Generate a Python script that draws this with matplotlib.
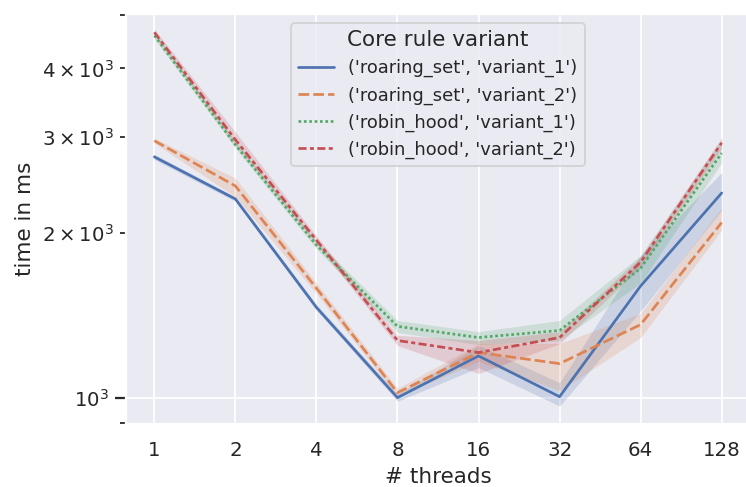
import numpy as np
import matplotlib
matplotlib.use("Agg")
import matplotlib.pyplot as plt
import seaborn as sns
from matplotlib.ticker import NullLocator

threads = [1, 2, 4, 8, 16, 32, 64, 128]
variants = ["('roaring_set', 'variant_1')", "('roaring_set', 'variant_2')",
            "('robin_hood', 'variant_1')", "('robin_hood', 'variant_2')"]

# mean time in ms, with lower / upper bound of the confidence band
rs_v1 = [2756, 2308, 1462, 1000, 1192, 1004, 1600, 2367]
rs_v1_lo = [2725, 2285, 1445, 985, 1135, 965, 1440, 2200]
rs_v1_hi = [2785, 2330, 1480, 1015, 1246, 1065, 1820, 2580]

rs_v2 = [2950, 2438, 1585, 1021, 1209, 1154, 1360, 2090]
rs_v2_lo = [2920, 2330, 1550, 1005, 1165, 1030, 1288, 2025]
rs_v2_hi = [2980, 2520, 1620, 1040, 1255, 1256, 1426, 2222]

rh_v1 = [4595, 2900, 1901, 1350, 1288, 1327, 1724, 2800]
rh_v1_lo = [4530, 2860, 1870, 1316, 1250, 1272, 1620, 2690]
rh_v1_hi = [4660, 2940, 1935, 1384, 1320, 1384, 1820, 2960]

rh_v2 = [4656, 2962, 1941, 1272, 1209, 1288, 1769, 2924]
rh_v2_lo = [4600, 2900, 1910, 1245, 1107, 1255, 1730, 2860]
rh_v2_hi = [4720, 3060, 1975, 1300, 1272, 1320, 1810, 2990]

means = [rs_v1, rs_v2, rh_v1, rh_v2]
lows = [rs_v1_lo, rs_v2_lo, rh_v1_lo, rh_v2_lo]
highs = [rs_v1_hi, rs_v2_hi, rh_v1_hi, rh_v2_hi]

sns.set_theme(style="darkgrid", context="notebook")
colors = sns.color_palette("deep")
dashes = [(None, None), (4, 1.5), (1, 1), (3, 1.25, 1.5, 1.25)]

dpi = 129
fig = plt.figure(figsize=(746 / dpi, 487 / dpi), dpi=dpi)
ax = fig.add_axes([0.1689, 0.1294, 0.8365, 0.8419])

for k in range(len(variants)):
    line, = ax.plot(threads, means[k], color=colors[k], label=variants[k])
    if dashes[k][0] is not None:
        line.set_dashes(dashes[k])
    ax.fill_between(threads, lows[k], highs[k], color=colors[k], alpha=0.2, linewidth=0)

ax.set_xscale("log", base=2)
ax.set_yscale("log")
ax.set_xticks(threads, labels=[str(t) for t in threads])
ax.xaxis.set_minor_locator(NullLocator())
ax.set_xlim(2 ** -0.35, 2 ** 7.35)
ax.set_ylim(895, 5030)
ax.tick_params(axis="y", which="both", left=True)
ax.tick_params(axis="y", which="minor", length=3.5)

ax.set_xlabel("# threads")
ax.set_ylabel("time in ms")
ax.legend(title="Core rule variant", loc="upper center", fontsize=10, title_fontsize=12)

fig.savefig("out.png", dpi=dpi)
